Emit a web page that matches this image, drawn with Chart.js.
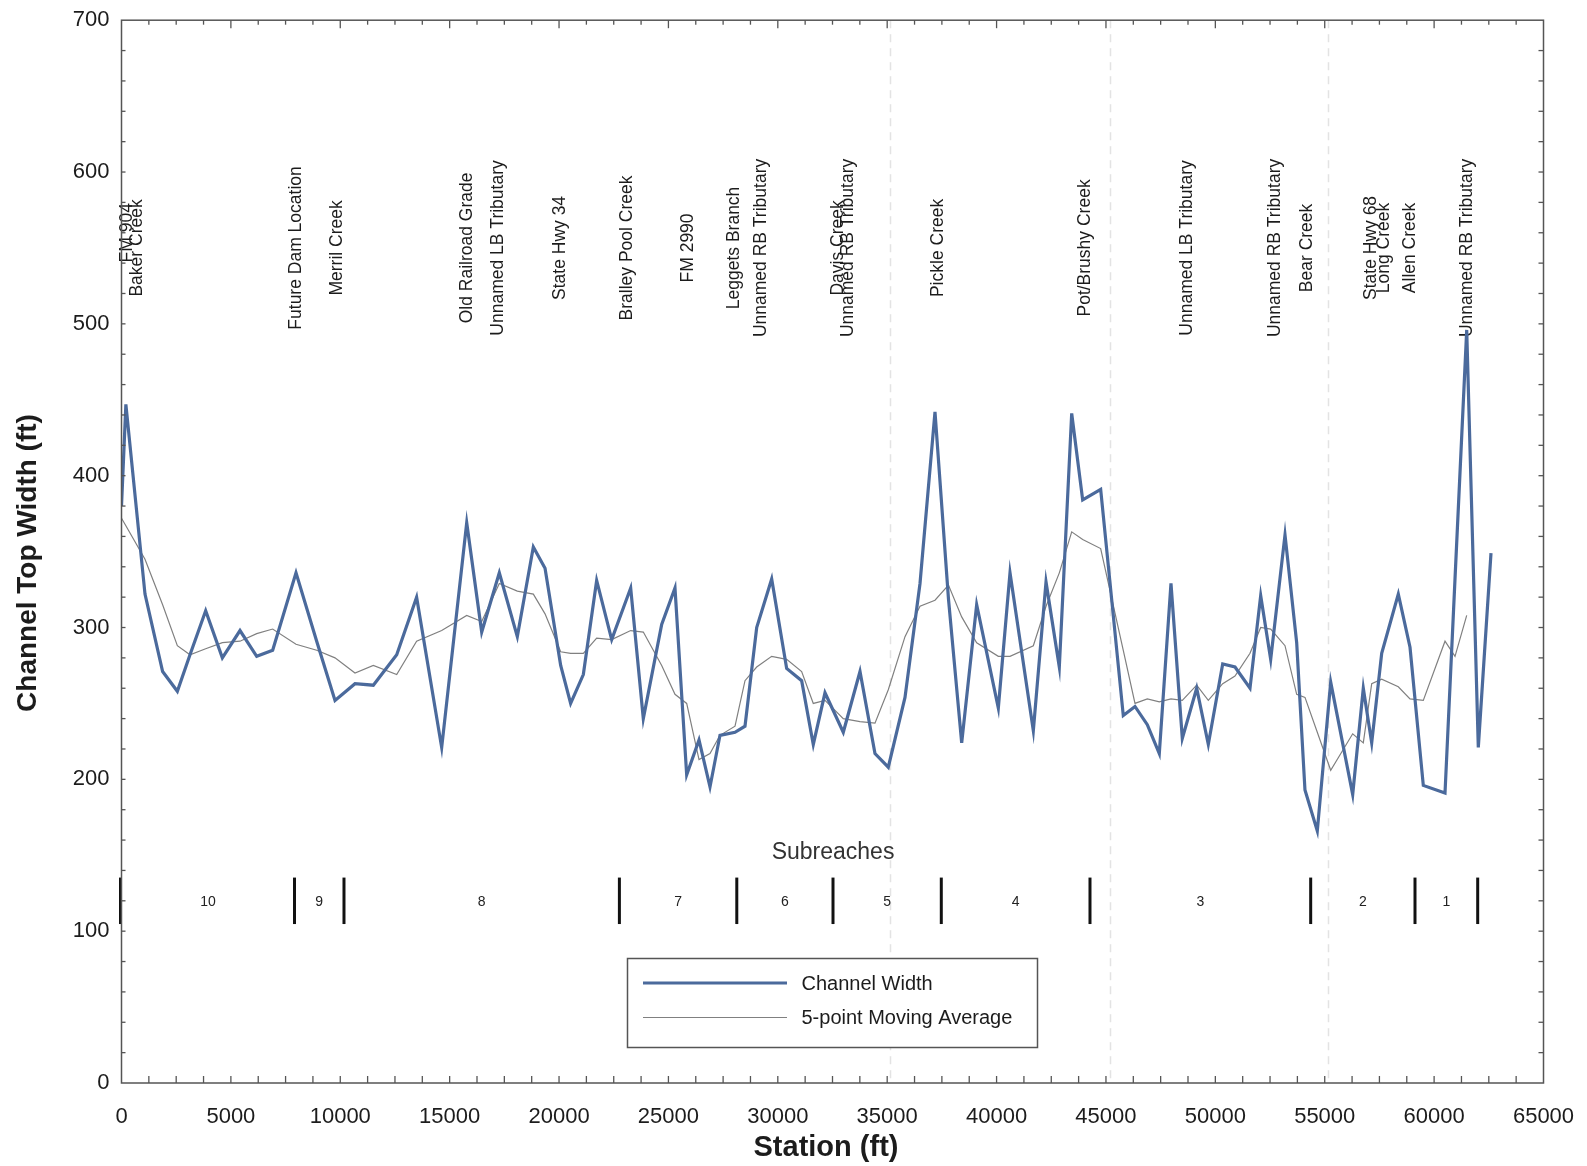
<!DOCTYPE html>
<html>
<head>
<meta charset="utf-8">
<script src="https://cdn.jsdelivr.net/npm/chart.js@4.4.0/dist/chart.umd.min.js"></script>
<style>
  html, body { margin: 0; padding: 0; background: #ffffff; }
  #wrap { width: 1587px; height: 1166px; }
</style>
</head>
<body>
<div id="wrap"><canvas id="c" width="1587" height="1166"></canvas></div>
<script>
// ---------------- DATA ----------------
const stations = [0, 200, 1074, 1880, 2553, 3131, 3848, 4610, 5417, 6180, 6910, 7977, 8922, 9760,
  10673, 11510, 12580, 13490, 14636, 15780, 16465, 17270, 18093, 18825, 19360, 20075, 20530, 21110,
  21720, 22407, 23275, 23852, 24692, 25300, 25835, 26398, 26900, 27357, 28044, 28500, 29035, 29720,
  30405, 31090, 31622, 32157, 32993, 33757, 34442, 35050, 35814, 36500, 37185, 37800, 38405, 39090,
  40080, 40614, 41680, 42260, 42868, 43434, 43936, 44758, 45792, 46327, 46890, 47438, 47972, 48490,
  49147, 49678, 50336, 50898, 51584, 52073, 52530, 53184, 53718, 54097, 54660, 55273, 56278, 56763,
  57147, 57604, 58363, 58898, 59506, 60498, 60955, 61490, 62020, 62600];

const channelWidth = [380, 447, 322, 271, 258, 282, 311, 280, 298, 281, 285, 336, 291, 252,
  263, 262, 282, 320, 221, 369, 297, 336, 294, 353, 339, 275, 250, 269,
  331, 292, 326, 240, 302, 326, 203, 226, 195, 229, 231, 235, 300, 332,
  273, 265, 223, 257, 231, 271, 217, 208, 254, 329, 442, 319, 224, 315,
  247, 336, 232, 330, 274, 441, 384, 391, 242, 248, 236, 217, 329, 227,
  260, 223, 276, 274, 260, 321, 279, 361, 290, 193, 166, 264, 190, 260,
  224, 283, 322, 287, 196, 191, 332, 496, 221, 349];

const movingAvg = [372, 367, 345, 315, 288, 282, 286, 290, 291, 296, 299, 289, 285, 280,
  270, 275, 269, 291, 298, 308, 304, 329, 324, 322, 309, 284, 283, 283,
  293, 292, 298, 297, 275, 256, 250, 213, 217, 229, 235, 265, 274, 281,
  279, 271, 250, 252, 240, 238, 237, 259, 294, 314, 318, 328, 307, 290,
  281, 281, 288, 314, 336, 363, 358, 352, 285, 250, 253, 251, 253, 252,
  262, 252, 263, 268, 283, 300, 299, 288, 256, 254, 231, 206, 230, 224,
  263, 266, 261, 253, 252, 291, 281, 308, null, null];

const xTicks = [0, 5000, 10000, 15000, 20000, 25000, 30000, 35000, 40000, 45000, 50000, 55000, 60000, 65000];
const yTicks = [0, 100, 200, 300, 400, 500, 600, 700];

const markerNames = ['FM 904', 'Baker Creek', 'Future Dam Location', 'Merril Creek', 'Old Railroad Grade',
  'Unnamed LB Tributary', 'State Hwy 34', 'Bralley Pool Creek', 'FM 2990', 'Leggets Branch',
  'Unnamed RB Tributary', 'Davis Creek', 'Unnamed RB Tributary', 'Pickle Creek', 'Pot/Brushy Creek',
  'Unnamed LB Tributary', 'Unnamed RB Tributary', 'Bear Creek', 'State Hwy 68', 'Long Creek',
  'Allen Creek', 'Unnamed RB Tributary'];
const markerStations = [251, 709, 7999, 9851, 15820, 17210, 20030, 23130, 25895, 27988, 29232, 32751,
  33208, 37322, 44042, 48704, 52726, 54217, 57133, 57737, 58898, 61526];

const subreachBounds = [0, 7908, 10170, 22759, 28125, 32523, 37473, 44270, 54358, 59126, 61992];
const subreachNames = ['10', '9', '8', '7', '6', '5', '4', '3', '2', '1'];

const faintStations = [35150, 45200, 55150];

// ---------------- CHART ----------------
const FONT = '"Liberation Sans", Arial, Helvetica, sans-serif';
const BLUE = '#4b6a9c';
const GRAY = '#808080';
const INK = '#1c1c1c';

const pts = (ys) => stations.map((s, i) => ({ x: s, y: ys[i] }));

const decor = {
  id: 'decor',
  beforeDatasetsDraw(chart) {
    const { ctx, chartArea: a, scales: { x, y } } = chart;
    ctx.save();
    // faint vertical lines
    ctx.strokeStyle = 'rgba(175,175,175,0.35)';
    ctx.lineWidth = 1.5;
    ctx.setLineDash([8, 6]);
    faintStations.forEach(v => {
      const px = Math.round(x.getPixelForValue(v)) + 0.5;
      ctx.beginPath(); ctx.moveTo(px, a.top); ctx.lineTo(px, a.bottom); ctx.stroke();
    });
    ctx.setLineDash([]);

    // vertical feature labels
    ctx.fillStyle = INK;
    ctx.font = '17.5px ' + FONT;
    ctx.textAlign = 'center';
    ctx.textBaseline = 'middle';
    markerNames.forEach((n, i) => {
      const px = x.getPixelForValue(markerStations[i]);
      const py = y.getPixelForValue(n === 'FM 904' ? 560 : 550);
      ctx.save();
      ctx.translate(px, py);
      ctx.rotate(-Math.PI / 2);
      ctx.fillText(n, 0, 0);
      ctx.restore();
    });

    // subreaches
    ctx.font = '23px ' + FONT;
    ctx.fillStyle = '#333';
    ctx.fillText('Subreaches', x.getPixelForValue(32523), y.getPixelForValue(151.5));
    ctx.strokeStyle = '#111';
    ctx.lineWidth = 3;
    const yTop = y.getPixelForValue(135.3), yBot = y.getPixelForValue(104.7);
    subreachBounds.forEach(v => {
      const px = x.getPixelForValue(v) + (v === 0 ? -1 : 0);
      ctx.beginPath(); ctx.moveTo(px, yTop); ctx.lineTo(px, yBot); ctx.stroke();
    });
    ctx.font = '14px ' + FONT;
    ctx.fillStyle = '#222';
    subreachNames.forEach((n, i) => {
      const mid = (subreachBounds[i] + subreachBounds[i + 1]) / 2;
      ctx.fillText(n, x.getPixelForValue(mid), y.getPixelForValue(119));
    });
    ctx.restore();
  },
  afterDatasetsDraw(chart) {
    const { ctx, chartArea: a, scales: { x, y } } = chart;
    ctx.save();
    // frame
    ctx.strokeStyle = '#555';
    ctx.lineWidth = 1.5;
    ctx.strokeRect(a.left, a.top, a.right - a.left, a.bottom - a.top);

    // tick marks
    ctx.lineWidth = 1.3;
    ctx.strokeStyle = '#555';
    for (let v = 1250; v < 65000; v += 1250) {
      const px = x.getPixelForValue(v);
      ctx.beginPath(); ctx.moveTo(px, a.bottom); ctx.lineTo(px, a.bottom - 7); ctx.stroke();
      const len = (v % 5000 === 0) ? 8 : 4.5;
      ctx.beginPath(); ctx.moveTo(px, a.top); ctx.lineTo(px, a.top + len); ctx.stroke();
    }
    for (let v = 20; v < 700; v += 20) {
      const py = y.getPixelForValue(v);
      ctx.beginPath(); ctx.moveTo(a.left, py); ctx.lineTo(a.left + 4, py); ctx.stroke();
      ctx.beginPath(); ctx.moveTo(a.right, py); ctx.lineTo(a.right - 5, py); ctx.stroke();
    }

    // axis titles
    ctx.fillStyle = INK;
    ctx.textAlign = 'center';
    ctx.textBaseline = 'middle';
    ctx.font = 'bold 28px ' + FONT;
    ctx.save();
    ctx.translate(28.5, 563);
    ctx.rotate(-Math.PI / 2);
    ctx.fillText('Channel Top Width (ft)', 0, 0);
    ctx.restore();
    ctx.font = 'bold 29px ' + FONT;
    ctx.fillText('Station (ft)', 826, 1148);

    // legend
    const lx = 627.5, ly = 958.5, lw = 410, lh = 89;
    ctx.fillStyle = '#fff';
    ctx.fillRect(lx, ly, lw, lh);
    ctx.strokeStyle = '#555';
    ctx.lineWidth = 1.5;
    ctx.strokeRect(lx, ly, lw, lh);
    const ds = chart.data.datasets;
    [[983, ds[0]], [1017.5, ds[1]]].forEach(([yy, d]) => {
      ctx.strokeStyle = d.borderColor;
      ctx.lineWidth = d.borderWidth;
      ctx.beginPath(); ctx.moveTo(643, yy); ctx.lineTo(787, yy); ctx.stroke();
      ctx.fillStyle = INK;
      ctx.font = '20px ' + FONT;
      ctx.textAlign = 'left';
      ctx.fillText(d.label, 801.5, yy + 1);
    });
    ctx.restore();
  }
};

new Chart(document.getElementById('c').getContext('2d'), {
  type: 'line',
  data: {
    datasets: [
      { label: 'Channel Width', data: pts(channelWidth), borderColor: BLUE, borderWidth: 3.2,
        pointRadius: 0, tension: 0, fill: false, borderJoinStyle: 'miter' },
      { label: '5-point Moving Average', data: pts(movingAvg), borderColor: GRAY, borderWidth: 1.2,
        pointRadius: 0, tension: 0, fill: false, spanGaps: false }
    ]
  },
  options: {
    responsive: false,
    animation: false,
    devicePixelRatio: 1,
    layout: { padding: { left: 0, right: 43.5, top: 20.2, bottom: 0 } },
    plugins: { legend: { display: false }, tooltip: { enabled: false } },
    scales: {
      x: {
        type: 'linear', min: 0, max: 65000,
        grid: { display: false, drawTicks: false },
        border: { display: false },
        afterBuildTicks: (s) => { s.ticks = xTicks.map(v => ({ value: v })); },
        ticks: { font: { family: FONT, size: 22 }, color: INK, padding: 21, maxRotation: 0, autoSkip: false,
          callback: (v) => String(v) },
        afterFit: (s) => { s.height = 83; s.paddingLeft = 0; s.paddingRight = 0; }
      },
      y: {
        type: 'linear', min: 0, max: 700,
        grid: { display: false, drawTicks: false },
        border: { display: false },
        afterBuildTicks: (s) => { s.ticks = yTicks.map(v => ({ value: v })); },
        ticks: { font: { family: FONT, size: 22 }, color: INK, padding: 12, callback: (v) => String(v) },
        afterFit: (s) => { s.width = 121.5; s.paddingTop = 0; s.paddingBottom = 0; }
      }
    }
  },
  plugins: [decor]
});
</script>
</body>
</html>
